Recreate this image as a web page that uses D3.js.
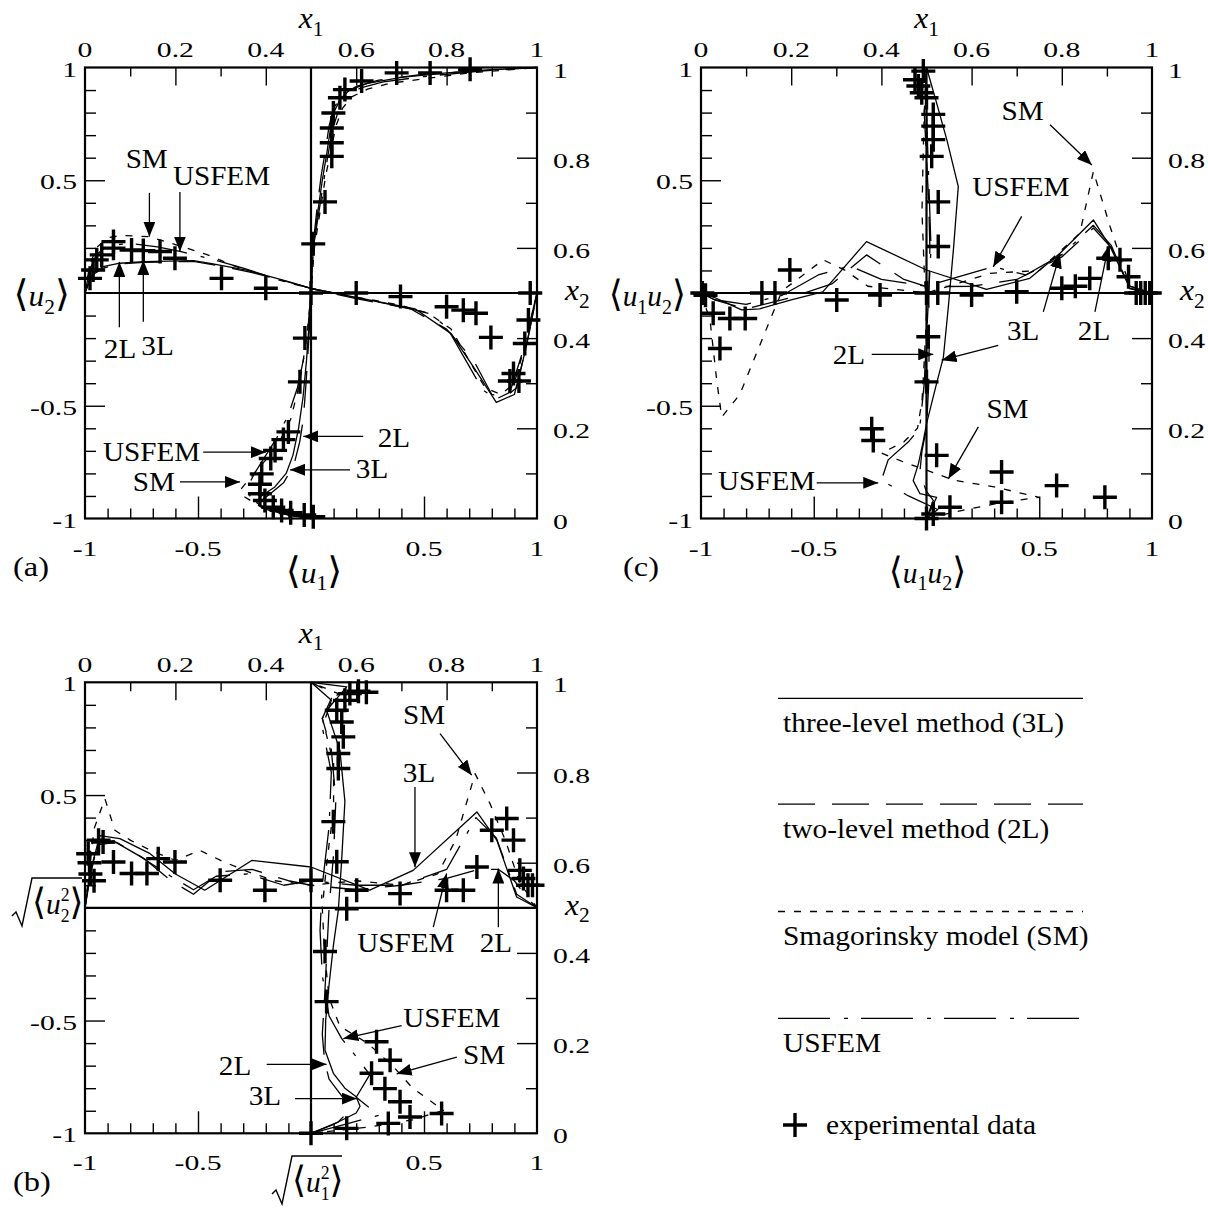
<!DOCTYPE html>
<html>
<head>
<meta charset="utf-8">
<script src="https://cdn.jsdelivr.net/npm/d3@7"></script>
<style>
  body { margin: 0; background: #fff; }
  svg { display: block; }
  text { font-family: "Liberation Serif", "Times New Roman", serif; fill: #000; }
</style>
</head>
<body>
<svg id="fig" width="1208" height="1217"></svg>
<script>
// ---------- series keys and legend text ----------
const modelKeys = ["3L", "2L", "SM", "USFEM"];
const legendNames = ["three-level method (3L)", "two-level method (2L)", "Smagorinsky model (SM)", "USFEM"];

// ---------- tick labels ----------
const valueTickLabels = [-1, -0.5, 0.5, 1];          // bottom and left axes
const positionTickLabels = [0, 0.2, 0.4, 0.6, 0.8, 1]; // top and right axes

// ---------- (a) mean velocity: vertical centreline [<u1>, x2] ----------
const aVert3L = [[0,0],[-0.1,0.008],[-0.2,0.02],[-0.24,0.035],[-0.22,0.05],[-0.16,0.07],[-0.11,0.1],[-0.08,0.14],[-0.055,0.2],[-0.035,0.27],[-0.02,0.35],[-0.01,0.42],[0,0.5],[0.01,0.6],[0.03,0.68],[0.05,0.75],[0.07,0.81],[0.085,0.86],[0.1,0.9],[0.13,0.93],[0.17,0.95],[0.25,0.965],[0.4,0.978],[0.6,0.988],[0.8,0.995],[1,1]];
const aVert2L = [[0,0],[-0.1,0.008],[-0.19,0.022],[-0.22,0.04],[-0.18,0.055],[-0.12,0.08],[-0.075,0.12],[-0.05,0.17],[-0.034,0.22],[-0.022,0.3],[-0.012,0.38],[-0.005,0.44],[0,0.5],[0.008,0.6],[0.025,0.68],[0.045,0.76],[0.065,0.82],[0.08,0.87],[0.1,0.91],[0.14,0.94],[0.2,0.958],[0.3,0.972],[0.5,0.985],[0.75,0.993],[1,1]];
const aVertSM = [[0,0],[-0.12,0.01],[-0.22,0.025],[-0.3,0.05],[-0.31,0.065],[-0.27,0.09],[-0.2,0.13],[-0.14,0.17],[-0.09,0.22],[-0.06,0.28],[-0.04,0.33],[-0.015,0.42],[0,0.5],[0.015,0.6],[0.04,0.68],[0.065,0.76],[0.09,0.82],[0.11,0.87],[0.14,0.91],[0.18,0.935],[0.25,0.952],[0.35,0.965],[0.5,0.975],[0.7,0.988],[1,1]];
const aVertUSFEM = [[0,0],[-0.12,0.01],[-0.21,0.025],[-0.27,0.05],[-0.28,0.07],[-0.25,0.1],[-0.2,0.14],[-0.15,0.18],[-0.1,0.23],[-0.06,0.29],[-0.03,0.36],[-0.012,0.43],[0,0.5],[0.01,0.6],[0.035,0.68],[0.06,0.76],[0.08,0.82],[0.1,0.87],[0.125,0.91],[0.16,0.935],[0.22,0.955],[0.32,0.968],[0.5,0.98],[0.75,0.992],[1,1]];
const aVertExp = [[-0.027,0.4],[-0.049,0.303],[-0.1,0.192],[-0.122,0.175],[-0.159,0.151],[-0.178,0.133],[-0.218,0.099],[-0.226,0.076],[-0.226,0.055],[-0.204,0.04],[-0.167,0.025],[-0.13,0.018],[-0.09,0.013],[-0.03,0.008],[0.01,0.004],[0.01,0.609],[0.062,0.702],[0.092,0.803],[0.092,0.833],[0.092,0.866],[0.099,0.899],[0.128,0.933],[0.15,0.951],[0.224,0.97],[0.379,0.988],[0.527,0.988],[0.704,0.996]];

// ---------- (a) mean velocity: horizontal centreline [x1, <u2>] ----------
const aHorz3L = [[0,0],[0.01,0.06],[0.02,0.09],[0.04,0.117],[0.077,0.132],[0.13,0.139],[0.24,0.144],[0.28,0.13],[0.36,0.1],[0.45,0.05],[0.5,0.02],[0.6,-0.02],[0.73,-0.07],[0.81,-0.18],[0.86,-0.33],[0.91,-0.485],[0.95,-0.45],[0.975,-0.25],[1,0]];
const aHorz2L = [[0,0],[0.01,0.05],[0.02,0.085],[0.04,0.11],[0.075,0.128],[0.13,0.136],[0.24,0.14],[0.3,0.12],[0.37,0.09],[0.44,0.055],[0.5,0.02],[0.6,-0.025],[0.72,-0.07],[0.8,-0.16],[0.86,-0.3],[0.9,-0.45],[0.93,-0.46],[0.955,-0.42],[0.978,-0.22],[1,0]];
const aHorzSM = [[0,0],[0.01,0.12],[0.025,0.2],[0.05,0.245],[0.08,0.255],[0.14,0.25],[0.2,0.215],[0.27,0.17],[0.33,0.12],[0.4,0.075],[0.46,0.04],[0.5,0.02],[0.55,0],[0.62,-0.025],[0.7,-0.055],[0.76,-0.09],[0.81,-0.16],[0.85,-0.3],[0.885,-0.42],[0.92,-0.45],[0.95,-0.4],[0.975,-0.22],[1,0]];
const aHorzUSFEM = [[0,0],[0.01,0.1],[0.025,0.17],[0.05,0.21],[0.1,0.22],[0.16,0.205],[0.21,0.185],[0.28,0.15],[0.35,0.11],[0.42,0.065],[0.5,0.02],[0.6,-0.02],[0.7,-0.06],[0.76,-0.09],[0.8,-0.15],[0.84,-0.29],[0.88,-0.43],[0.91,-0.47],[0.94,-0.44],[0.97,-0.25],[1,0]];
const aHorzExp = [[0.011,0.065],[0.018,0.102],[0.026,0.147],[0.037,0.169],[0.063,0.199],[0.063,0.228],[0.103,0.191],[0.129,0.188],[0.166,0.184],[0.199,0.154],[0.302,0.065],[0.4,0.021],[0.5,0],[0.6,0],[0.698,-0.016],[0.8,-0.061],[0.837,-0.076],[0.865,-0.09],[0.898,-0.197],[0.94,-0.39],[0.948,-0.357],[0.96,-0.39],[0.973,-0.224],[0.981,-0.12],[0.985,0]];

// ---------- (c) shear stress: vertical centreline [<u1u2>, x2] ----------
const cVert3L = [[0,0],[0.045,0.047],[-0.029,0.055],[-0.059,0.084],[-0.036,0.121],[-0.015,0.17],[0,0.21],[0.04,0.29],[0.075,0.358],[0.097,0.47],[0.12,0.6],[0.141,0.736],[0.09,0.84],[0.04,0.93],[0,1]];
const cVert2L = [[0,0],[0.03,0.04],[0,0.06],[-0.03,0.1],[-0.02,0.15],[0,0.2],[0.01,0.3],[0.012,0.4],[0.01,0.5],[0.015,0.6],[0.01,0.7],[0,0.8],[-0.01,0.9],[0,1]];
const cVertSM = [[0,0],[0.16,0.018],[0.33,0.035],[0.5,0.047],[0.3,0.07],[0.12,0.085],[0.04,0.1],[-0.1,0.125],[-0.2,0.145],[-0.1,0.17],[-0.04,0.2],[-0.02,0.26],[-0.01,0.35],[0,0.45],[-0.01,0.55],[-0.02,0.68],[-0.015,0.8],[-0.01,0.9],[0,1]];
const cVertUSFEM = [[0,0],[0.05,0.02],[-0.08,0.05],[-0.2,0.085],[-0.17,0.13],[-0.08,0.17],[-0.03,0.2],[-0.01,0.3],[0,0.4],[0.01,0.5],[0.02,0.6],[0.01,0.75],[0,0.9],[0,1]];
const cVertExp = [[-0.014,0.992],[-0.051,0.973],[-0.036,0.959],[-0.021,0.944],[0,0.933],[0.03,0.896],[0.03,0.87],[0.03,0.84],[0.023,0.803],[0.052,0.702],[0.052,0.603],[0.008,0.403],[0,0.303],[-0.243,0.199],[-0.236,0.173],[0.045,0.14],[0.333,0.103],[0.577,0.073],[0.791,0.047],[0.333,0.036],[0.104,0.025],[0.03,0.01],[0,0]];

// ---------- (c) shear stress: horizontal centreline [x1, <u1u2>] ----------
const cHorz3L = [[0,0],[0.03,-0.02],[0.09,-0.075],[0.13,-0.07],[0.2,-0.03],[0.27,0.005],[0.367,0.228],[0.5,0.102],[0.633,0.016],[0.729,0.065],[0.796,0.176],[0.87,0.324],[0.907,0.206],[0.951,0.021],[1,0]];
const cHorz2L = [[0,0],[0.03,-0.03],[0.1,-0.07],[0.2,-0.02],[0.29,0.04],[0.367,0.169],[0.45,0.06],[0.5,0.028],[0.6,0.03],[0.7,0.06],[0.8,0.16],[0.87,0.288],[0.91,0.2],[0.95,0.03],[1,0]];
const cHorzSM = [[0,0],[0.02,-0.12],[0.035,-0.39],[0.046,-0.55],[0.086,-0.45],[0.153,-0.12],[0.18,0.01],[0.271,0.147],[0.32,0.1],[0.37,0.03],[0.5,0],[0.641,0.087],[0.75,0.1],[0.84,0.265],[0.87,0.539],[0.907,0.295],[0.951,0.03],[1,0]];
const cHorzUSFEM = [[0,0],[0.03,-0.03],[0.1,-0.05],[0.18,-0.01],[0.26,0.08],[0.33,0.12],[0.4,0.06],[0.5,0.03],[0.648,0.117],[0.72,0.08],[0.8,0.17],[0.87,0.3],[0.91,0.21],[0.95,0.02],[1,0]];
const cHorzExp = [[0.003,0],[0.01,-0.01],[0.027,-0.09],[0.064,-0.113],[0.098,-0.113],[0.042,-0.246],[0.135,0],[0.164,0],[0.197,0.102],[0.301,-0.031],[0.397,-0.009],[0.5,0],[0.525,0],[0.6,-0.009],[0.7,0.006],[0.8,0.021],[0.83,0.03],[0.862,0.065],[0.903,0.154],[0.929,0.147],[0.948,0.072],[0.965,0],[0.975,0],[0.985,0],[0.995,0]];

// ---------- (b) rms fluctuation: vertical centreline [sqrt<u1^2>, x2] ----------
const bVert3L = [[0,0],[0.1,0.02],[0.2,0.045],[0.217,0.06],[0.2,0.081],[0.15,0.1],[0.099,0.133],[0.062,0.184],[0.065,0.25],[0.08,0.33],[0.1,0.42],[0.121,0.495],[0.135,0.6],[0.15,0.736],[0.128,0.849],[0.069,0.938],[0.158,0.99],[0,1]];
const bVert2L = [[0,0],[0.12,0.025],[0.17,0.05],[0.14,0.08],[0.08,0.12],[0.06,0.16],[0.05,0.22],[0.06,0.3],[0.07,0.4],[0.08,0.5],[0.1,0.62],[0.11,0.74],[0.09,0.85],[0.05,0.92],[0.1,0.975],[0,1]];
const bVertSM = [[0,0],[0.26,0.014],[0.45,0.03],[0.586,0.051],[0.45,0.1],[0.364,0.148],[0.25,0.2],[0.128,0.237],[0.08,0.3],[0.06,0.4],[0.05,0.5],[0.07,0.6],[0.1,0.72],[0.1,0.82],[0.05,0.92],[0.12,0.975],[0,1]];
const bVertUSFEM = [[0,0],[0.15,0.02],[0.3,0.04],[0.2,0.08],[0.26,0.13],[0.2,0.17],[0.136,0.21],[0.08,0.26],[0.05,0.35],[0.04,0.45],[0.05,0.55],[0.08,0.68],[0.09,0.8],[0.05,0.9],[0.09,0.96],[0,1]];
const bVertExp = [[0.114,0.938],[0.136,0.912],[0.143,0.879],[0.121,0.842],[0.121,0.809],[0.099,0.691],[0.114,0.602],[0.15,0.96],[0.172,0.975],[0.21,0.98],[0.245,0.978],[0.158,0.498],[0.062,0.403],[0.069,0.292],[0.29,0.203],[0.35,0.162],[0.268,0.133],[0.327,0.099],[0.394,0.07],[0.438,0.036],[0.578,0.044],[0.342,0.022],[0.158,0.011],[0,0]];

// ---------- (b) rms fluctuation: horizontal centreline [x1, sqrt<u2^2>] ----------
const bHorz3L = [[0,0],[0.01,0.15],[0.033,0.32],[0.077,0.307],[0.144,0.24],[0.2,0.15],[0.265,0.078],[0.369,0.21],[0.5,0.181],[0.63,0.078],[0.726,0.166],[0.867,0.425],[0.911,0.3],[0.955,0.048],[1,0]];
const bHorz2L = [[0,0],[0.01,0.12],[0.03,0.28],[0.07,0.29],[0.13,0.22],[0.19,0.12],[0.24,0.06],[0.3,0.16],[0.37,0.17],[0.45,0.12],[0.5,0.1],[0.6,0.08],[0.7,0.1],[0.8,0.13],[0.87,0.17],[0.915,0.17],[0.95,0.12],[0.98,0.04],[1,0]];
const bHorzSM = [[0,0],[0.02,0.35],[0.044,0.484],[0.066,0.344],[0.1,0.3],[0.15,0.25],[0.2,0.21],[0.254,0.255],[0.3,0.21],[0.36,0.16],[0.42,0.12],[0.5,0.1],[0.6,0.12],[0.7,0.1],[0.78,0.15],[0.82,0.3],[0.863,0.595],[0.896,0.462],[0.93,0.3],[0.96,0.12],[1,0]];
const bHorzUSFEM = [[0,0],[0.01,0.13],[0.03,0.3],[0.06,0.3],[0.12,0.23],[0.19,0.14],[0.24,0.08],[0.29,0.14],[0.36,0.15],[0.44,0.1],[0.5,0.12],[0.6,0.1],[0.7,0.1],[0.8,0.17],[0.865,0.4],[0.91,0.31],[0.955,0.06],[1,0]];
const bHorzExp = [[0.007,0.24],[0.01,0.2],[0.012,0.15],[0.02,0.12],[0.03,0.3],[0.04,0.292],[0.063,0.203],[0.103,0.152],[0.137,0.152],[0.162,0.218],[0.199,0.203],[0.299,0.122],[0.398,0.078],[0.5,0.122],[0.601,0.078],[0.697,0.063],[0.8,0.078],[0.837,0.078],[0.867,0.181],[0.9,0.344],[0.933,0.396],[0.948,0.3],[0.962,0.166],[0.97,0.13],[0.98,0.1],[0.99,0.1]];

// ---------- call-out labels: text anchor and arrows in [bottom value, x2] units ----------
const calloutsA = [
  { label: "SM",    at: [-0.727, 0.778], arrows: [[-0.715, 0.722, -0.715, 0.625]] },
  { label: "USFEM", at: [-0.396, 0.74],  arrows: [[-0.58, 0.724, -0.58, 0.592]] },
  { label: "2L",    at: [-0.845, 0.356], arrows: [[-0.848, 0.424, -0.848, 0.569]] },
  { label: "3L",    at: [-0.679, 0.362], arrows: [[-0.742, 0.436, -0.742, 0.573]] },
  { label: "USFEM", at: [-0.705, 0.127], arrows: [[-0.477, 0.147, -0.2, 0.147]] },
  { label: "SM",    at: [-0.695, 0.062], arrows: [[-0.58, 0.081, -0.314, 0.081]] },
  { label: "2L",    at: [0.367, 0.158],  arrows: [[0.231, 0.182, -0.034, 0.182]] },
  { label: "3L",    at: [0.27, 0.089],   arrows: [[0.173, 0.108, -0.093, 0.108]] }
];
const calloutsC = [
  { label: "SM",    at: [0.426, 0.884],  arrows: [[0.548, 0.873, 0.733, 0.784]] },
  { label: "USFEM", at: [0.418, 0.716],  arrows: [[0.422, 0.67, 0.296, 0.558]] },
  { label: "3L",    at: [0.429, 0.396],  arrows: [[0.518, 0.458, 0.592, 0.588], [0.318, 0.384, 0.067, 0.351]] },
  { label: "2L",    at: [0.743, 0.396],  arrows: [[0.747, 0.458, 0.806, 0.603]] },
  { label: "2L",    at: [-0.344, 0.342], arrows: [[-0.243, 0.364, 0.03, 0.364]] },
  { label: "SM",    at: [0.359, 0.222],  arrows: [[0.23, 0.203, 0.097, 0.088]] },
  { label: "USFEM", at: [-0.709, 0.064], arrows: [[-0.487, 0.079, -0.214, 0.079]] }
];
const calloutsB = [
  { label: "SM",    at: [0.5, 0.907],    arrows: [[0.571, 0.886, 0.711, 0.794]] },
  { label: "3L",    at: [0.478, 0.78],   arrows: [[0.46, 0.768, 0.46, 0.59]] },
  { label: "USFEM", at: [0.42, 0.401],   arrows: [[0.541, 0.457, 0.6, 0.576]] },
  { label: "2L",    at: [0.818, 0.401],  arrows: [[0.829, 0.457, 0.829, 0.587]] },
  { label: "USFEM", at: [0.623, 0.235],  arrows: [[0.401, 0.239, 0.143, 0.21]] },
  { label: "SM",    at: [0.766, 0.153],  arrows: [[0.645, 0.169, 0.379, 0.132]] },
  { label: "2L",    at: [-0.336, 0.129], arrows: [[-0.196, 0.153, 0.069, 0.153]] },
  { label: "3L",    at: [-0.204, 0.062], arrows: [[-0.071, 0.077, 0.202, 0.077]] }
];

// ---------- drawing ----------
const svg = d3.select("#fig");
const dashes = { "3L": null, "2L": "37,17", "SM": "7,9", "USFEM": "52,14,4,13" };
const fmt = v => String(v);
const crossPath = "M-12,0H12M0,-12V12";

svg.append("defs").append("marker")
  .attr("id", "head").attr("viewBox", "0 0 15 12").attr("refX", 15).attr("refY", 6)
  .attr("markerWidth", 15).attr("markerHeight", 12).attr("markerUnits", "userSpaceOnUse")
  .attr("orient", "auto")
  .append("path").attr("d", "M0,0L15,6L0,12Z").attr("fill", "#000");

// text with a horizontal stretch
function sText(parent, x, y, str, size, sx, anchor) {
  return parent.append("g").attr("transform", `translate(${x},${y}) scale(${sx},1)`)
    .append("text").attr("font-size", size).attr("text-anchor", anchor || "middle").text(str);
}

// math-style label built from tspans (italic, sub/superscripts, angle brackets)
function mText(parent, x, y, size, anchor, pieces, sx) {
  const t = parent.append("g").attr("transform", `translate(${x},${y}) scale(${sx || 1.05},1)`)
    .append("text").attr("font-size", size).attr("text-anchor", anchor);
  let shift = 0;
  pieces.forEach(p => {
    const s = t.append("tspan").text(p.t);
    let target = 0;
    if (p.sub) target = p.low || size * 0.25;
    if (p.sup) target = -size * 0.43;
    if (p.sub || p.sup) s.attr("font-size", p.small || size * 0.68);
    if (p.it) s.attr("font-style", "italic");
    if (p.br) s.attr("font-family", "'DejaVu Sans', 'DejaVu Serif', serif")
      .attr("font-size", size * 1.22).attr("font-weight", 300);
    if (p.dx) s.attr("dx", p.dx);
    if (target !== shift) { s.attr("dy", target - shift); shift = target; }
  });
  return t;
}

const uMinor = d3.range(-9, 10).filter(i => i % 5 !== 0).map(i => i / 10);
const uMajor = [-0.5, 0.5];
const pMinor = [0.1, 0.3, 0.7, 0.9];
const pMajor = [0.2, 0.4, 0.6, 0.8];

function drawPanel(box, series, callouts) {
  const g = svg.append("g");
  const xb = d3.scaleLinear().domain([-1, 1]).range([box.l, box.r]);
  const xt = d3.scaleLinear().domain([0, 1]).range([box.l, box.r]);
  const yl = d3.scaleLinear().domain([-1, 1]).range([box.b, box.t]);
  const yr = d3.scaleLinear().domain([0, 1]).range([box.b, box.t]);

  const ticks = (axis, vals, len, tx, ty) => {
    g.append("g").attr("transform", `translate(${tx},${ty})`)
      .call(axis.tickValues(vals).tickSize(-len).tickFormat(""))
      .call(s => s.select(".domain").remove())
      .selectAll("line").attr("stroke", "#000").attr("stroke-width", 1.4);
  };
  ticks(d3.axisBottom(xb), uMinor, 10, 0, box.b);
  ticks(d3.axisBottom(xb), uMajor, 22, 0, box.b);
  ticks(d3.axisTop(xt), pMinor, 9, 0, box.t);
  ticks(d3.axisTop(xt), pMajor, 18, 0, box.t);
  ticks(d3.axisLeft(yl), uMinor, 11, box.l, 0);
  ticks(d3.axisLeft(yl), uMajor, 20, box.l, 0);
  ticks(d3.axisRight(yr), pMinor, 11, box.r, 0);
  ticks(d3.axisRight(yr), pMajor, 20, box.r, 0);

  g.append("rect").attr("x", box.l).attr("y", box.t)
    .attr("width", box.r - box.l).attr("height", box.b - box.t)
    .attr("fill", "none").attr("stroke", "#000").attr("stroke-width", 2.2);
  g.append("line").attr("x1", xb(0)).attr("x2", xb(0)).attr("y1", box.t).attr("y2", box.b)
    .attr("stroke", "#000").attr("stroke-width", 2.2);
  g.append("line").attr("x1", box.l).attr("x2", box.r).attr("y1", yr(0.5)).attr("y2", yr(0.5))
    .attr("stroke", "#000").attr("stroke-width", 2.2);

  const lineV = d3.line().x(d => xb(d[0])).y(d => yr(d[1]));
  const lineH = d3.line().x(d => xt(d[0])).y(d => yl(d[1]));
  modelKeys.forEach(k => {
    [[lineV, series.vert[k]], [lineH, series.horz[k]]].forEach(([ln, pts]) => {
      const p = g.append("path").attr("d", ln(pts)).attr("fill", "none")
        .attr("stroke", "#000").attr("stroke-width", 1.3).attr("stroke-linejoin", "round");
      if (dashes[k]) p.attr("stroke-dasharray", dashes[k]);
    });
  });

  g.selectAll(null).data(series.expVert).join("path")
    .attr("transform", d => `translate(${xb(d[0])},${yr(d[1])})`)
    .attr("d", crossPath).attr("stroke", "#000").attr("stroke-width", 3.4);
  g.selectAll(null).data(series.expHorz).join("path")
    .attr("transform", d => `translate(${xt(d[0])},${yl(d[1])})`)
    .attr("d", crossPath).attr("stroke", "#000").attr("stroke-width", 3.4);

  // tick labels
  valueTickLabels.forEach(v => sText(g, xb(v), box.b + 37, fmt(v), 22, 1.35, "middle"));
  positionTickLabels.forEach(v => sText(g, xt(v), box.t - 10.5, fmt(v), 22, 1.35, "middle"));
  valueTickLabels.forEach(v => sText(g, box.l - 8, yl(v) + 9, fmt(v), 22, 1.35, "end"));
  positionTickLabels.forEach(v => sText(g, box.r + 16, yr(v) + 10, fmt(v), 22, 1.35, "start"));

  // call-outs
  callouts.forEach(c => {
    sText(g, xb(c.at[0]), yr(c.at[1]), c.label, 27, 1.08, "middle");
    c.arrows.forEach(a => {
      g.append("line").attr("x1", xb(a[0])).attr("y1", yr(a[1]))
        .attr("x2", xb(a[2])).attr("y2", yr(a[3]))
        .attr("stroke", "#000").attr("stroke-width", 1.3).attr("marker-end", "url(#head)");
    });
  });

  // x1 on top, x2 on right
  mText(g, xt(0.5), box.t - 39.5, 30, "middle", [{ t: "x", it: 1 }, { t: "1", sub: 1 }]);
  mText(g, box.r + 28, yr(0.5) + 7, 30, "start", [{ t: "x", it: 1 }, { t: "2", sub: 1 }]);
  return { g, xb, yr, box };
}

const boxA = { l: 85, r: 537, t: 67.5, b: 518.5 };
const boxC = { l: 701, r: 1152, t: 67.5, b: 518.5 };
const boxB = { l: 85, r: 537, t: 682.3, b: 1133.3 };

drawPanel(boxA, {
  vert: { "3L": aVert3L, "2L": aVert2L, "SM": aVertSM, "USFEM": aVertUSFEM },
  horz: { "3L": aHorz3L, "2L": aHorz2L, "SM": aHorzSM, "USFEM": aHorzUSFEM },
  expVert: aVertExp, expHorz: aHorzExp
}, calloutsA);
drawPanel(boxC, {
  vert: { "3L": cVert3L, "2L": cVert2L, "SM": cVertSM, "USFEM": cVertUSFEM },
  horz: { "3L": cHorz3L, "2L": cHorz2L, "SM": cHorzSM, "USFEM": cHorzUSFEM },
  expVert: cVertExp, expHorz: cHorzExp
}, calloutsC);
drawPanel(boxB, {
  vert: { "3L": bVert3L, "2L": bVert2L, "SM": bVertSM, "USFEM": bVertUSFEM },
  horz: { "3L": bHorz3L, "2L": bHorz2L, "SM": bHorzSM, "USFEM": bHorzUSFEM },
  expVert: bVertExp, expHorz: bHorzExp
}, calloutsB);

// axis titles
const L = "\u27E8", R = "\u27E9";
mText(svg, (boxA.l + boxA.r) / 2 + 3, boxA.b + 64, 30, "middle",
  [{ t: L, br: 1 }, { t: "u", it: 1 }, { t: "1", sub: 1 }, { t: R, br: 1 }]);
mText(svg, boxA.l - 15, (boxA.t + boxA.b) / 2 + 13, 30, "end",
  [{ t: L, br: 1 }, { t: "u", it: 1 }, { t: "2", sub: 1 }, { t: R, br: 1 }]);
mText(svg, (boxC.l + boxC.r) / 2 + 1, boxC.b + 64, 30, "middle",
  [{ t: L, br: 1 }, { t: "u", it: 1 }, { t: "1", sub: 1 }, { t: "u", it: 1 }, { t: "2", sub: 1 }, { t: R, br: 1 }], 0.98);
mText(svg, boxC.l - 15, (boxC.t + boxC.b) / 2 + 13, 30, "end",
  [{ t: L, br: 1 }, { t: "u", it: 1 }, { t: "1", sub: 1 }, { t: "u", it: 1 }, { t: "2", sub: 1 }, { t: R, br: 1 }], 0.98);

// square-root titles of panel (b)
function rootTitle(x0, yBase, width, pieces) {
  // x0: left tip of the radical, yBase: text baseline, width: overline length
  const top = yBase - 36;
  svg.append("path")
    .attr("d", `M${x0},${yBase + 2}l4,-4l6,14L${x0 + 20},${top}h${width}`)
    .attr("fill", "none").attr("stroke", "#000").attr("stroke-width", 1.4);
  mText(svg, x0 + 20, yBase, 30, "start", pieces, 0.98);
}
rootTitle(12, 914, 50,
  [{ t: L, br: 1 }, { t: "u", it: 1 }, { t: "2", sup: 1, small: 18 }, { t: "2", sub: 1, small: 18, low: 8, dx: -9 }, { t: R, br: 1 }]);
rootTitle(272, 1192, 50,
  [{ t: L, br: 1 }, { t: "u", it: 1 }, { t: "2", sup: 1, small: 18 }, { t: "1", sub: 1, small: 18, low: 8, dx: -9 }, { t: R, br: 1 }]);

// panel letters
sText(svg, 13, 576, "(a)", 27, 1.2, "start");
sText(svg, 623, 576, "(c)", 27, 1.2, "start");
sText(svg, 13, 1191, "(b)", 27, 1.2, "start");

// legend
const legRows = [698.3, 804.2, 911.5, 1018.4];
modelKeys.forEach((k, i) => {
  const ln = svg.append("line").attr("x1", 778).attr("x2", 1083)
    .attr("y1", legRows[i]).attr("y2", legRows[i])
    .attr("stroke", "#000").attr("stroke-width", 1.3);
  if (dashes[k]) ln.attr("stroke-dasharray", dashes[k]);
  sText(svg, 783, legRows[i] + 33.5, legendNames[i], 27, 1.09, "start");
});
svg.append("path").attr("transform", "translate(795,1125)").attr("d", crossPath)
  .attr("stroke", "#000").attr("stroke-width", 3.4);
sText(svg, 826, 1134, "experimental data", 27, 1.09, "start");
</script>
</body>
</html>
